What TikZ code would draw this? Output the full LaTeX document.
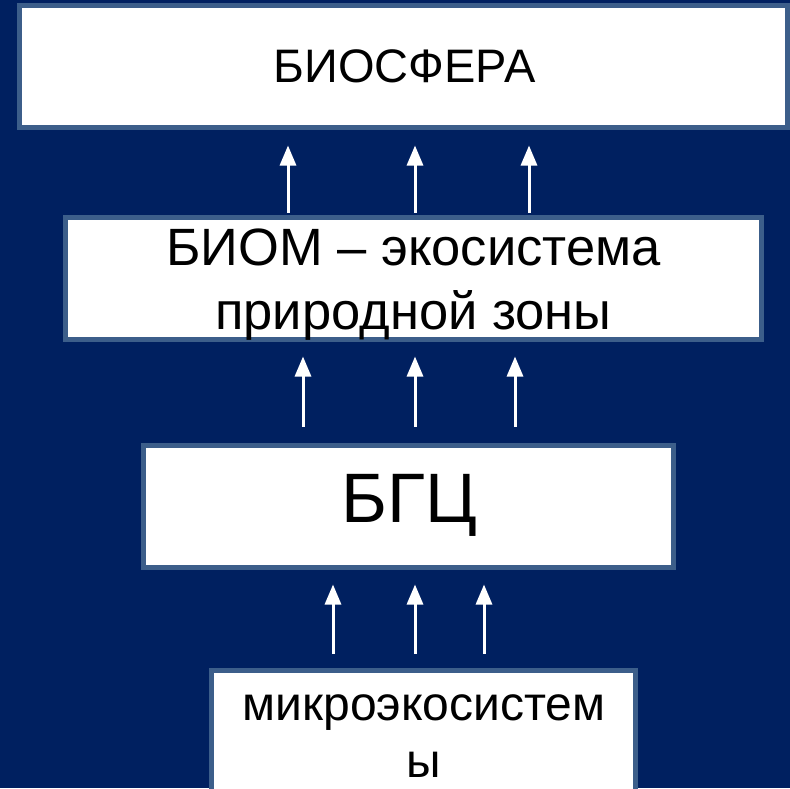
\documentclass[tikz,border=0pt]{standalone}
\usepackage{fontspec}
\setmainfont{Liberation Sans}
\usetikzlibrary{arrows.meta}
\definecolor{bg}{HTML}{002060}
\definecolor{bd}{HTML}{3C5E8A}
\begin{document}
\begin{tikzpicture}[x=1pt,y=-1pt,
  box/.style={draw=bd, line width=5pt, fill=white, inner sep=0pt, rectangle},
  lbl/.style={inner sep=0pt, align=center, text=black},
  arr/.style={draw=white, line width=3pt, -{Triangle[width=16pt,length=20pt]}}]
\fill[bg] (0,0) rectangle (790,788);
\useasboundingbox (0,0) rectangle (790,788);
\begin{scope}
\clip (0,0) rectangle (790,788);
\node[box, minimum width=768pt, minimum height=122pt] (b1) at (403.5,66.5) {};
\node[box, minimum width=696pt, minimum height=122pt] (b2) at (413.5,278.5) {};
\node[box, minimum width=530pt, minimum height=122pt] (b3) at (408.5,506.5) {};
\node[box, minimum width=424pt, minimum height=160pt] (b4) at (423.5,750.5) {};

\node[lbl, font=\fontsize{47}{56}\selectfont] (t1) at (404.5,66.5) {БИОСФЕРА};
\node[lbl, font=\fontsize{52.5}{64}\selectfont] (t2) at (413.5,285) {БИОМ – экосистема\\природной зоны};
\node[lbl, font=\fontsize{70}{84}\selectfont] (t3) at (409.5,505) {БГЦ};
\node[lbl, font=\fontsize{48}{57}\selectfont] (t4) at (424,736) {микроэкосистем\\ы};

\coordinate (a1) at (288,0);
\coordinate (a2) at (415,0);
\coordinate (a3) at (529,0);
\coordinate (c1) at (303,0);
\coordinate (c2) at (415,0);
\coordinate (c3) at (515,0);
\coordinate (d1) at (333,0);
\coordinate (d2) at (415,0);
\coordinate (d3) at (484,0);

\foreach \p in {a1,a2,a3}
  \draw[arr, shorten <=2.5pt, shorten >=15.5pt] (b2.north -| \p) -- (b1.south -| \p);
\foreach \p in {c1,c2,c3}
  \draw[arr, shorten <=16.5pt, shorten >=14.5pt] (b3.north -| \p) -- (b2.south -| \p);
\foreach \p in {d1,d2,d3}
  \draw[arr, shorten <=14.5pt, shorten >=14.5pt] (b4.north -| \p) -- (b3.south -| \p);
\end{scope}
\end{tikzpicture}
\end{document}
